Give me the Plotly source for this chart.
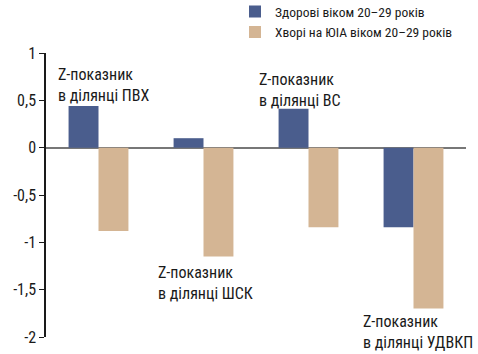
import plotly.graph_objects as go

categories = ["ПВХ", "ШСК", "ВС", "УДВКП"]
healthy = [0.44, 0.10, 0.41, -0.84]
sick = [-0.88, -1.15, -0.84, -1.70]
series_names = ["Здорові віком 20–29 років", "Хворі на ЮІА віком 20–29 років"]
tick_vals = [1, 0.5, 0, -0.5, -1, -1.5, -2]
tick_text = ["1", "0,5", "0", "-0,5", "-1", "-1,5", "-2"]
labels = ["Z-показник<br>в ділянці ПВХ", "Z-показник<br>в ділянці ШСК",
          "Z-показник<br>в ділянці ВС", "Z-показник<br>в ділянці УДВКП"]
label_x = [0.024, 0.262, 0.503, 0.750]
label_y = [0.89, -1.20, 0.84, -1.72]

FONT = "Liberation Sans Narrow, Arial Narrow, Roboto Condensed, Liberation Sans, sans-serif"

fig = go.Figure()
fig.add_trace(go.Bar(x=categories, y=healthy, name=series_names[0],
                     marker=dict(color="#4a5d8d", line=dict(width=0))))
fig.add_trace(go.Bar(x=categories, y=sick, name=series_names[1],
                     marker=dict(color="#d4b594", line=dict(width=0))))

for t, x, y in zip(labels, label_x, label_y):
    fig.add_annotation(text=t, x=x, y=y, xref="paper", yref="y",
                       xanchor="left", yanchor="top", align="left",
                       showarrow=False, font=dict(size=16, color="#1a1a1a", family=FONT))

fig.update_layout(
    width=478, height=354,
    margin=dict(l=46, r=12, t=53, b=17, autoexpand=False),
    paper_bgcolor="white", plot_bgcolor="white",
    barmode="group", bargap=0.43, bargroupgap=0,
    font=dict(family=FONT, size=14, color="#1a1a1a"),
    showlegend=True,
    legend=dict(x=0.45, y=1.2, xanchor="left", yanchor="top",
                xref="paper", yref="paper",
                font=dict(size=13.5, family=FONT), bgcolor="rgba(0,0,0,0)",
                tracegroupgap=0, itemwidth=30),
    xaxis=dict(showticklabels=False, showline=False, showgrid=False, ticks="",
               zeroline=False),
    yaxis=dict(range=[-2, 1], tickvals=tick_vals, ticktext=tick_text,
               showline=True, linecolor="#1a1a1a", linewidth=1.5,
               ticks="outside", ticklen=5, tickcolor="#1a1a1a", showgrid=False,
               zeroline=True, zerolinecolor="#777777", zerolinewidth=1.5,
               tickfont=dict(size=16, family=FONT)),
)
fig.write_html("out.html")
